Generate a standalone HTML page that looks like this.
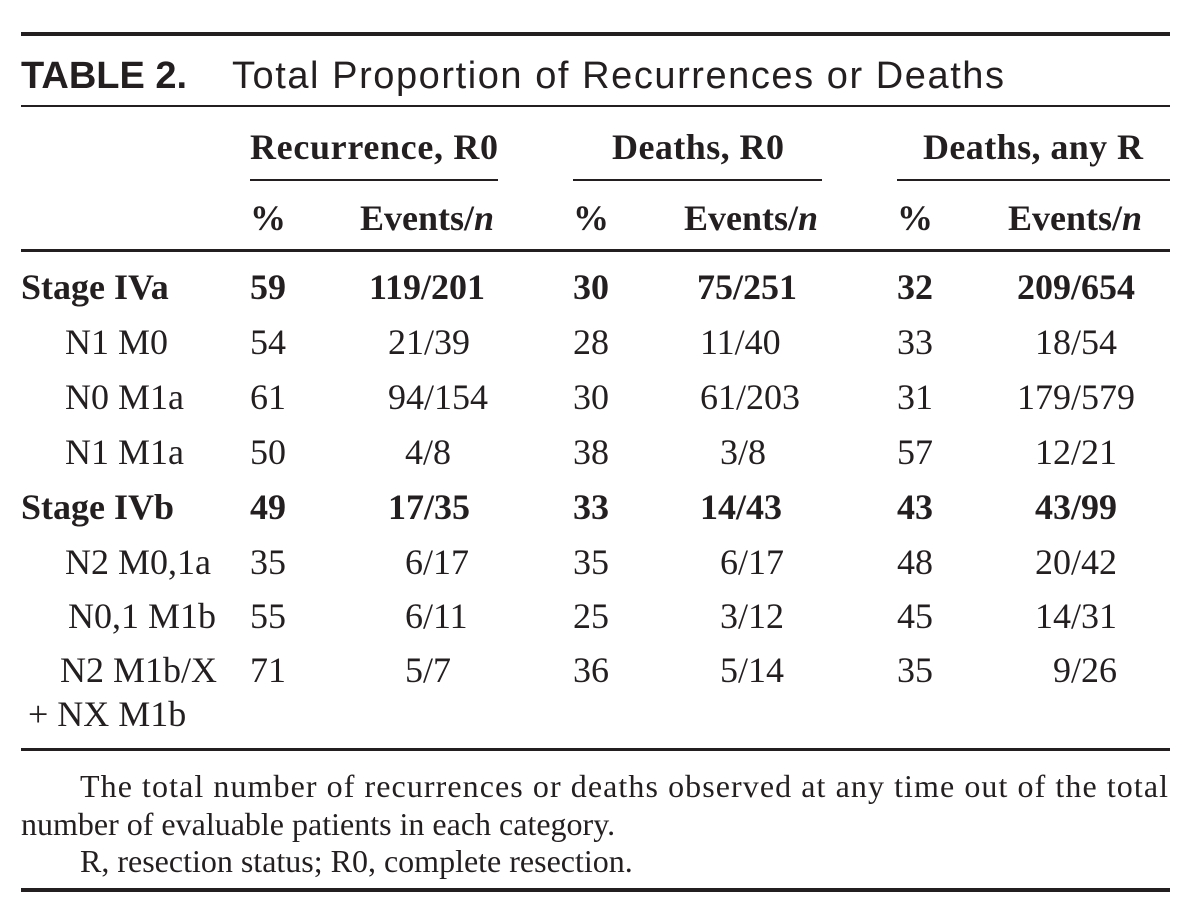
<!DOCTYPE html>
<html><head><style>html,body{margin:0;background:#fff}</style></head><body>
<svg width="1204" height="916" xmlns="http://www.w3.org/2000/svg" style="display:block">
<g fill="#231f20" font-family="Liberation Serif, serif" font-size="36">
<rect x="21" y="32" width="1149" height="4"/>
<rect x="21" y="105" width="1149" height="2"/>
<rect x="250" y="179" width="248" height="2"/>
<rect x="573" y="179" width="249" height="2"/>
<rect x="897" y="179" width="273" height="2"/>
<rect x="21" y="249" width="1149" height="3"/>
<rect x="21" y="748" width="1149" height="3"/>
<rect x="21" y="888" width="1149" height="4"/>
<text x="21" y="88" font-family="Liberation Sans, sans-serif" font-size="38" font-weight="bold">TABLE 2.</text>
<text x="232" y="88" font-family="Liberation Sans, sans-serif" font-size="38" textLength="772">Total Proportion of Recurrences or Deaths</text>
<g font-weight="bold">
<text x="250" y="159" textLength="248">Recurrence, R0</text>
<text x="612" y="159" textLength="172">Deaths, R0</text>
<text x="923" y="159" textLength="220">Deaths, any R</text>
<text x="250" y="230">%</text><text x="360" y="230">Events/<tspan font-style="italic">n</tspan></text>
<text x="573" y="230">%</text><text x="684" y="230">Events/<tspan font-style="italic">n</tspan></text>
<text x="897" y="230">%</text><text x="1008" y="230">Events/<tspan font-style="italic">n</tspan></text>
<text x="21" y="299">Stage IVa</text><text x="250" y="299">59</text><text x="369" y="299">119/201</text><text x="573" y="299">30</text><text x="697" y="299">75/251</text><text x="897" y="299">32</text><text x="1017" y="299">209/654</text>
<text x="21" y="519">Stage IVb</text><text x="250" y="519">49</text><text x="388" y="519">17/35</text><text x="573" y="519">33</text><text x="700" y="519">14/43</text><text x="897" y="519">43</text><text x="1035" y="519">43/99</text>
</g>
<text x="65" y="354">N1 M0</text><text x="250" y="354">54</text><text x="388" y="354">21/39</text><text x="573" y="354">28</text><text x="700" y="354">11/40</text><text x="897" y="354">33</text><text x="1035" y="354">18/54</text>
<text x="65" y="409">N0 M1a</text><text x="250" y="409">61</text><text x="388" y="409">94/154</text><text x="573" y="409">30</text><text x="700" y="409">61/203</text><text x="897" y="409">31</text><text x="1017" y="409">179/579</text>
<text x="65" y="464">N1 M1a</text><text x="250" y="464">50</text><text x="405" y="464">4/8</text><text x="573" y="464">38</text><text x="720" y="464">3/8</text><text x="897" y="464">57</text><text x="1035" y="464">12/21</text>
<text x="65" y="574">N2 M0,1a</text><text x="250" y="574">35</text><text x="405" y="574">6/17</text><text x="573" y="574">35</text><text x="720" y="574">6/17</text><text x="897" y="574">48</text><text x="1035" y="574">20/42</text>
<text x="68" y="628">N0,1 M1b</text><text x="250" y="628">55</text><text x="405" y="628">6/11</text><text x="573" y="628">25</text><text x="720" y="628">3/12</text><text x="897" y="628">45</text><text x="1035" y="628">14/31</text>
<text x="60" y="682">N2 M1b/X</text><text x="250" y="682">71</text><text x="405" y="682">5/7</text><text x="573" y="682">36</text><text x="720" y="682">5/14</text><text x="897" y="682">35</text><text x="1053" y="682">9/26</text>
<text x="28" y="726">+ NX M1b</text>
<g font-size="32">
<text x="80" y="797" textLength="1088">The total number of recurrences or deaths observed at any time out of the total</text>
<text x="21" y="835">number of evaluable patients in each category.</text>
<text x="80" y="872">R, resection status; R0, complete resection.</text>
</g>
</g>
</svg>
</body></html>
